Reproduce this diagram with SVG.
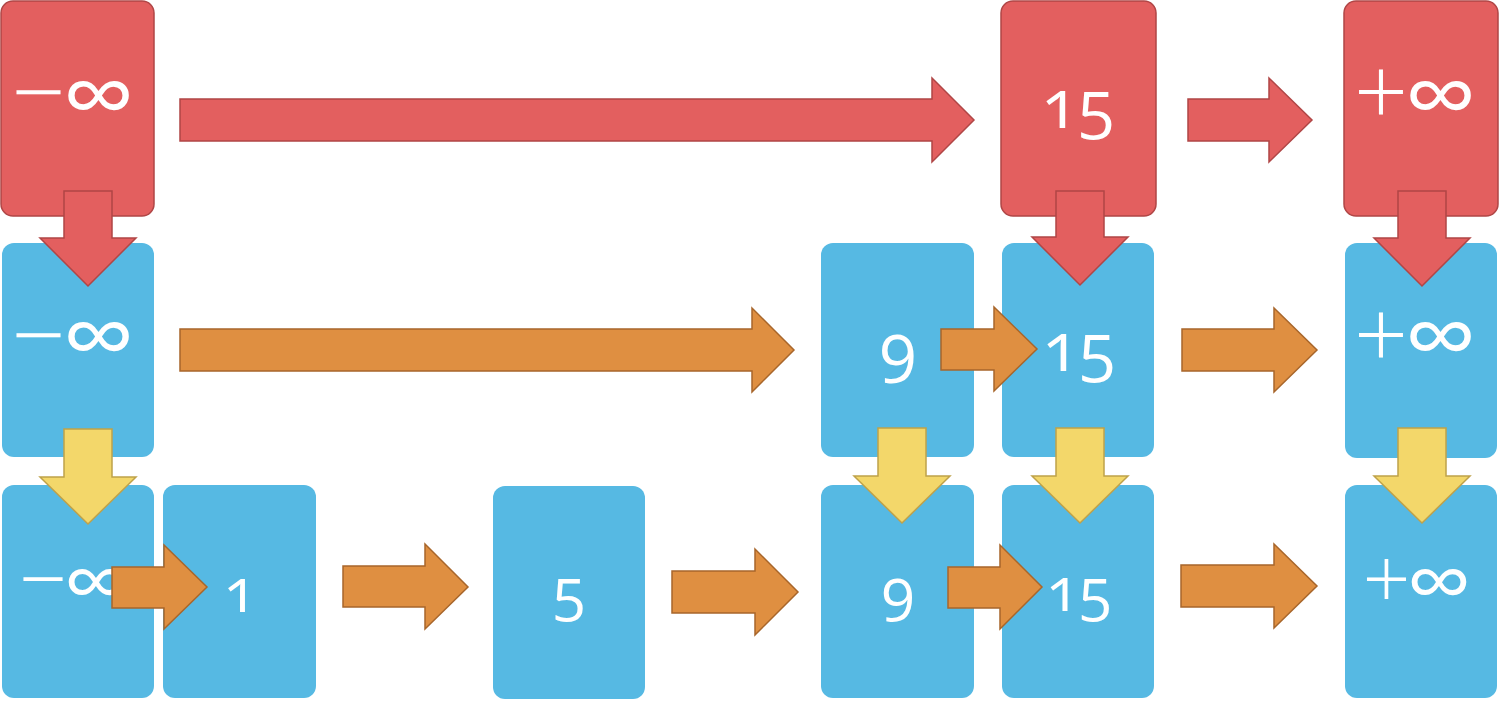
<svg xmlns="http://www.w3.org/2000/svg" width="1499" height="702" viewBox="0 0 1499 702">
<style>
.red{fill:#E35F5F;stroke:#B04646;stroke-width:1.5}
.blue{fill:#56B9E3}
.org{fill:#DF8F41;stroke:#A8662B;stroke-width:1.5}
.yel{fill:#F3D76A;stroke:#BFA24A;stroke-width:1.5}
.rarr{fill:#E35F5F;stroke:#B04646;stroke-width:1.5}
text{fill:#fff;font-family:"Open Sans","DejaVu Sans",sans-serif}
.num{font-size:67px;text-anchor:middle;font-variant-numeric:oldstyle-nums;font-feature-settings:"onum"}
.num3{font-size:60px;text-anchor:middle;font-variant-numeric:oldstyle-nums;font-feature-settings:"onum"}
.sg{font-size:95px;font-weight:300;text-anchor:middle}
.inf{font-size:95px;font-weight:400;text-anchor:middle}
.sg3{font-size:85px;font-weight:300;text-anchor:middle}
.inf3{font-size:85px;font-weight:400;text-anchor:middle}
</style>
<rect width="1499" height="702" fill="#fff"/>
<g id="r1-minf"><rect class="red" x="1" y="1" width="153" height="215" rx="12"/><text class="sg" x="38.5" y="126" textLength="54" lengthAdjust="spacingAndGlyphs">−</text><text class="inf" x="98.5" y="129" textLength="72" lengthAdjust="spacingAndGlyphs">∞</text></g>
<g id="r1-15"><rect class="red" x="1001" y="1" width="155" height="215" rx="12"/><text class="num" x="1078" y="128">15</text></g>
<g id="r1-pinf"><rect class="red" x="1344" y="1" width="154" height="215" rx="12"/><text class="sg" x="1381" y="126" textLength="54" lengthAdjust="spacingAndGlyphs">+</text><text class="inf" x="1440.5" y="129" textLength="72" lengthAdjust="spacingAndGlyphs">∞</text></g>

<g id="r2-minf"><rect class="blue" x="2" y="243" width="152" height="214" rx="12"/><text class="sg" x="38.5" y="369" textLength="54" lengthAdjust="spacingAndGlyphs">−</text><text class="inf" x="98.5" y="370" textLength="72" lengthAdjust="spacingAndGlyphs">∞</text></g>
<g id="r2-9"><rect class="blue" x="821" y="243" width="153" height="214" rx="12"/><text class="num" x="898" y="371">9</text></g>
<g id="r2-15"><rect class="blue" x="1002" y="243" width="152" height="214" rx="12"/><text class="num" x="1079" y="371">15</text></g>
<g id="r2-pinf"><rect class="blue" x="1345" y="243" width="152" height="215" rx="12"/><text class="sg" x="1381" y="369" textLength="54" lengthAdjust="spacingAndGlyphs">+</text><text class="inf" x="1440.5" y="370" textLength="72" lengthAdjust="spacingAndGlyphs">∞</text></g>

<g id="r3-minf"><rect class="blue" x="2" y="485" width="152" height="213" rx="12"/><text class="sg3" x="43" y="609" textLength="48" lengthAdjust="spacingAndGlyphs">−</text><text class="inf3" x="96" y="612" textLength="65" lengthAdjust="spacingAndGlyphs">∞</text></g>
<g id="r3-1"><rect class="blue" x="163" y="485" width="153" height="213" rx="12"/><text class="num3" x="240" y="612">1</text></g>
<g id="r3-5"><rect class="blue" x="493" y="486" width="152" height="213" rx="12"/><text class="num3" x="569" y="611">5</text></g>
<g id="r3-9"><rect class="blue" x="821" y="485" width="153" height="213" rx="12"/><text class="num3" x="898" y="611">9</text></g>
<g id="r3-15"><rect class="blue" x="1002" y="485" width="152" height="213" rx="12"/><text class="num3" x="1079" y="611">15</text></g>
<g id="r3-pinf"><rect class="blue" x="1345" y="485" width="152" height="213" rx="12"/><text class="sg3" x="1386.5" y="609" textLength="48" lengthAdjust="spacingAndGlyphs">+</text><text class="inf3" x="1439" y="612" textLength="65" lengthAdjust="spacingAndGlyphs">∞</text></g>

<g id="connectors">
<path class="rarr" d="M180,99 H932 V78 L974,120 L932,162 V141 H180 Z"/>
<path class="rarr" d="M1188,99 H1269 V78 L1312,120 L1269,162 V141 H1188 Z"/>
<path class="rarr" d="M64,191 H112 V238 H136 L88,286 L40,238 H64 Z"/>
<path class="rarr" d="M1056,191 H1104 V237 H1128 L1080,285 L1032,237 H1056 Z"/>
<path class="rarr" d="M1398,191 H1446 V238 H1470 L1422,286 L1374,238 H1398 Z"/>

<path class="org" d="M180,329 H752 V308 L794,350 L752,392 V371 H180 Z"/>
<path class="org" d="M941,329 H994 V307 L1037,349 L994,391 V370 H941 Z"/>
<path class="org" d="M1182,329 H1274 V308 L1317,350 L1274,392 V371 H1182 Z"/>

<path class="yel" d="M64,429 H112 V477 H136 L88,524 L40,477 H64 Z"/>
<path class="yel" d="M878,428 H926 V476 H950 L902,523 L854,476 H878 Z"/>
<path class="yel" d="M1056,428 H1104 V476 H1128 L1080,523 L1032,476 H1056 Z"/>
<path class="yel" d="M1398,428 H1446 V476 H1470 L1422,523 L1374,476 H1398 Z"/>

<path class="org" d="M112,567 H164 V545 L207,587 L164,629 V608 H112 Z"/>
<path class="org" d="M343,566 H425 V544 L468,587 L425,629 V607 H343 Z"/>
<path class="org" d="M672,571 H755 V549 L798,592 L755,635 V613 H672 Z"/>
<path class="org" d="M948,567 H1000 V545 L1042,587 L1000,629 V608 H948 Z"/>
<path class="org" d="M1181,565 H1274 V544 L1317,586 L1274,628 V607 H1181 Z"/>
</g>
</svg>
